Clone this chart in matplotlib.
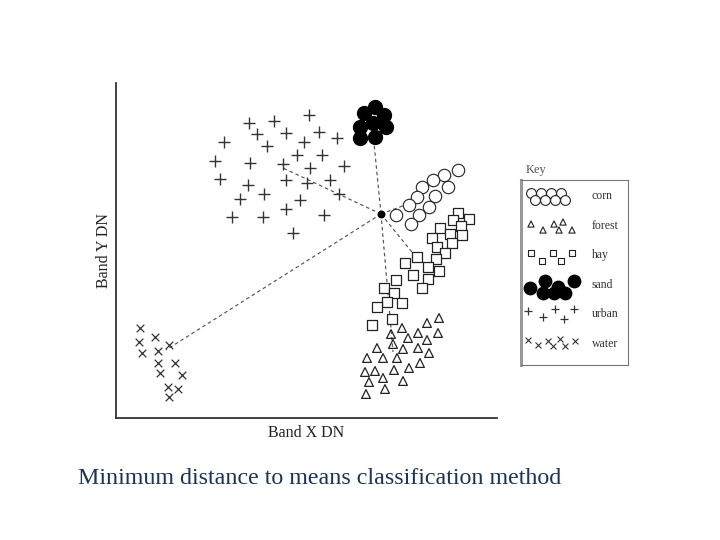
import numpy as np
import matplotlib
matplotlib.use("Agg")
import matplotlib.pyplot as plt

# ---- data (Band X DN, Band Y DN) ----
classes = ["corn", "forest", "hay", "sand", "urban", "water"]

corn_x = [342, 328, 317, 306, 332, 319, 301, 293, 313, 280, 303, 295]
corn_y = [248, 243, 238, 231, 231, 222, 221, 213, 211, 203, 203, 194]

forest_x = [323, 311, 322, 286, 275, 302, 292, 311, 261, 277, 287, 302, 313,
            251, 267, 281, 304, 293, 249, 259, 278, 267, 287, 253, 269, 250]
forest_y = [100, 95, 85, 90, 84, 85, 80, 78, 70, 74, 69, 70, 65,
            60, 60, 60, 55, 50, 46, 47, 48, 40, 37, 36, 29, 24]

hay_x = [342, 337, 353, 345, 324, 334, 346, 316, 336, 321, 329, 320, 301, 289,
         312, 323, 297, 312, 280, 306, 268, 278, 271, 286, 261, 276, 256]
hay_y = [205, 198, 199, 192, 190, 184, 183, 180, 175, 171, 165, 159, 161, 155,
         151, 147, 143, 139, 138, 130, 130, 125, 116, 115, 111, 99, 93]

sand_x = [259, 248, 268, 257, 244, 270, 244, 259]
sand_y = [311, 305, 303, 295, 291, 291, 280, 281]

urban_x = [133, 158, 193, 141, 170, 203, 221, 108, 151, 188, 99, 134, 167, 181,
           206, 228, 194, 104, 132, 170, 191, 214, 148, 124, 184, 223, 170, 116,
           147, 208, 177]
urban_y = [295, 297, 303, 284, 285, 286, 280, 276, 272, 276, 257, 255, 254, 263,
           263, 252, 250, 239, 233, 238, 235, 238, 224, 219, 218, 224, 209, 201,
           201, 203, 185]

water_x = [24, 39, 23, 53, 26, 42, 42, 59, 44, 66, 52, 62, 53]
water_y = [90, 81, 76, 73, 65, 67, 55, 55, 45, 43, 31, 29, 21]

# unknown pixel and the ends of its distance lines (class means)
pixel_x, pixel_y = 265, 204
mean_x = [308, 277, 304, 256, 167, 50]
mean_y = [220, 66, 156, 295, 250, 68]

# ---- figure ----
fig = plt.figure(figsize=(7.2, 5.4), dpi=100)
serif = ["Liberation Serif", "DejaVu Serif"]

ax = fig.add_axes([116 / 720, 122 / 540, 381 / 720, 335 / 540])
ax.set_xlim(0, 381)
ax.set_ylim(0, 335)
for s in ["top", "right"]:
    ax.spines[s].set_visible(False)
for s in ["left", "bottom"]:
    ax.spines[s].set_color("#333333")
    ax.spines[s].set_linewidth(1.3)
ax.set_xticks([])
ax.set_yticks([])

# dashed distance lines
for mx, my in zip(mean_x, mean_y):
    ax.plot([pixel_x, mx], [pixel_y, my], ls=(0, (3, 2.5)), lw=0.85,
            color="#555555", zorder=1)

ec = "#222222"
ax.scatter(corn_x, corn_y, marker="o", s=80, facecolor="white", edgecolor=ec,
           linewidth=0.8, zorder=3)
ax.scatter(hay_x, hay_y, marker="s", s=50, facecolor="white", edgecolor=ec,
           linewidth=0.9, zorder=3)
ax.scatter(forest_x, forest_y, marker="^", s=40, facecolor="none", edgecolor=ec,
           linewidth=0.9, zorder=3)
ax.scatter(sand_x, sand_y, marker="o", s=100, facecolor="black", edgecolor="black",
           zorder=3)
ax.scatter(urban_x, urban_y, marker="+", s=65, color="#333333", linewidth=1.0,
           zorder=3)
ax.scatter(water_x, water_y, marker="x", s=30, color="#333333", linewidth=0.9,
           zorder=3)
ax.scatter([pixel_x], [pixel_y], marker="o", s=22, color="black", zorder=4)

ax.set_xlabel("Band X DN", family=serif, fontsize=11.5, labelpad=5,
              color="#222222")
ax.set_ylabel("Band Y DN", family=serif, fontsize=11.5, labelpad=3,
              color="#222222")

# ---- key ----
fig.text(526 / 720, 1 - 170 / 540, "Key", family=serif, fontsize=9,
         color="#555555", va="center")
kax = fig.add_axes([521 / 720, 1 - 365 / 540, 107 / 720, 185 / 540])
kax.set_xlim(0, 107)
kax.set_ylim(185, 0)
kax.set_xticks([])
kax.set_yticks([])
for s in kax.spines.values():
    s.set_color("#777777")
    s.set_linewidth(0.8)
kax.spines["left"].set_linewidth(2.2)
kax.spines["left"].set_color("#999999")

# sample glyph layouts in key (pixel offsets inside box)
key_rows = {
    "corn": (16, "o", dict(s=50, facecolor="white", edgecolor=ec, linewidth=0.8),
             [(10, -3), (20, -3), (30, -3), (40, -3), (14, 4), (24, 4), (34, 4), (44, 4)]),
    "forest": (46, "^", dict(s=20, facecolor="none", edgecolor=ec, linewidth=0.8),
               [(10, -2), (33, -2), (42, -4), (22, 4), (38, 4), (51, 4)]),
    "hay": (75, "s", dict(s=22, facecolor="white", edgecolor=ec, linewidth=0.8),
            [(10, -2), (32, -2), (51, -2), (21, 6), (40, 6)]),
    "sand": (105, "o", dict(s=80, facecolor="black", edgecolor="black"),
             [(9, 3), (24, -4), (37, 2), (53, -4), (22, 8), (33, 8), (44, 8)]),
    "urban": (134, "+", dict(s=40, color="#333333", linewidth=0.9),
              [(7, -3), (22, 3), (34, -5), (43, 5), (53, -5)]),
    "water": (164, "x", dict(s=18, color="#333333", linewidth=0.8),
              [(7, -4), (17, 1), (27, -3), (39, -5), (44, 2), (54, -3), (32, 2)]),
}
for name in classes:
    y0, mk, kw, offs = key_rows[name]
    kax.scatter([o[0] for o in offs], [y0 + o[1] for o in offs], marker=mk, **kw)
    kax.text(71, y0, name, family=serif, fontsize=8.5, color="#333333",
             va="center", ha="left")

# ---- caption ----
fig.text(320 / 720, 1 - 478 / 540,
         "Minimum distance to means classification method",
         family=serif, fontsize=17.3, color="#1a3556", ha="center", va="center")

fig.savefig("out.png", dpi=100)
